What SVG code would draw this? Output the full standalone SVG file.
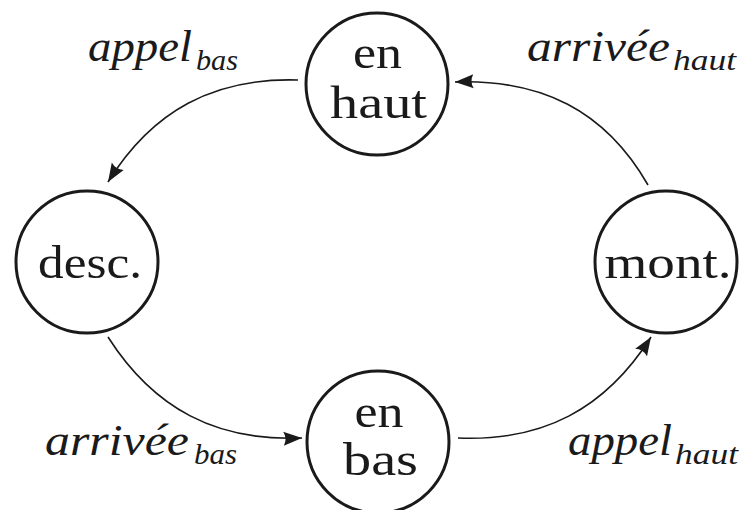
<svg xmlns="http://www.w3.org/2000/svg" width="742" height="510" viewBox="0 0 742 510">
  <style>
    .state { fill: #ffffff; stroke: #1a1a1a; stroke-width: 3; }
    .name { font-family: "Liberation Serif", "DejaVu Serif", serif; font-size: 46px; fill: #1a1a1a; text-anchor: middle; }
    .edge { fill: none; stroke: #1a1a1a; stroke-width: 1.6; marker-end: url(#head); }
    .lbl { font-family: "Liberation Serif", "DejaVu Serif", serif; font-style: italic; font-size: 44px; fill: #1a1a1a; }
    .sub { font-family: "Liberation Serif", "DejaVu Serif", serif; font-style: italic; font-size: 30px; fill: #1a1a1a; }
  </style>
  <defs>
    <marker id="head" markerUnits="userSpaceOnUse" markerWidth="19" markerHeight="15" viewBox="0 0 19 15" refX="18.5" refY="7.5" orient="auto">
      <path d="M0,0.5 Q4,7.5 0,14.5 L18.5,7.5 Z" fill="#1a1a1a"/>
    </marker>
  </defs>
  <rect width="742" height="510" fill="#ffffff"/>

  <!-- transitions -->
  <g id="edges">
    <path class="edge" d="M298,80 C214,77.4 152.3,110.6 108,182"/>
    <path class="edge" d="M648,185 C605,110 541,79 455,82"/>
    <path class="edge" d="M108,337 C154,409 216.5,441.7 302,438"/>
    <path class="edge" d="M458,438 C543,441.6 605.3,409 651,337"/>
  </g>

  <!-- states -->
  <g id="en-haut">
    <circle class="state" cx="377" cy="84" r="71"/>
    <text class="name" x="377.5" y="68" textLength="49" lengthAdjust="spacingAndGlyphs">en</text>
    <text class="name" x="378.5" y="118" textLength="97" lengthAdjust="spacingAndGlyphs">haut</text>
  </g>
  <g id="desc">
    <circle class="state" cx="87" cy="262" r="71"/>
    <text class="name" x="90" y="278" textLength="104" lengthAdjust="spacingAndGlyphs">desc.</text>
  </g>
  <g id="mont">
    <circle class="state" cx="666" cy="262" r="71"/>
    <text class="name" x="668" y="278" textLength="127" lengthAdjust="spacingAndGlyphs">mont.</text>
  </g>
  <g id="en-bas">
    <circle class="state" cx="378" cy="442" r="71"/>
    <text class="name" x="379" y="427" textLength="49" lengthAdjust="spacingAndGlyphs">en</text>
    <text class="name" x="380.5" y="475" textLength="75" lengthAdjust="spacingAndGlyphs">bas</text>
  </g>

  <!-- transition labels -->
  <g id="labels">
    <text class="lbl" x="88" y="61" textLength="104" lengthAdjust="spacingAndGlyphs">appel</text>
    <text class="sub" x="196" y="70" textLength="42" lengthAdjust="spacingAndGlyphs">bas</text>

    <text class="lbl" x="527" y="61" textLength="143" lengthAdjust="spacingAndGlyphs">arrivée</text>
    <text class="sub" x="673" y="70" textLength="63" lengthAdjust="spacingAndGlyphs">haut</text>

    <text class="lbl" x="45" y="455" textLength="144" lengthAdjust="spacingAndGlyphs">arrivée</text>
    <text class="sub" x="194" y="464" textLength="43" lengthAdjust="spacingAndGlyphs">bas</text>

    <text class="lbl" x="568" y="455" textLength="104" lengthAdjust="spacingAndGlyphs">appel</text>
    <text class="sub" x="675" y="464" textLength="63" lengthAdjust="spacingAndGlyphs">haut</text>
  </g>
</svg>
